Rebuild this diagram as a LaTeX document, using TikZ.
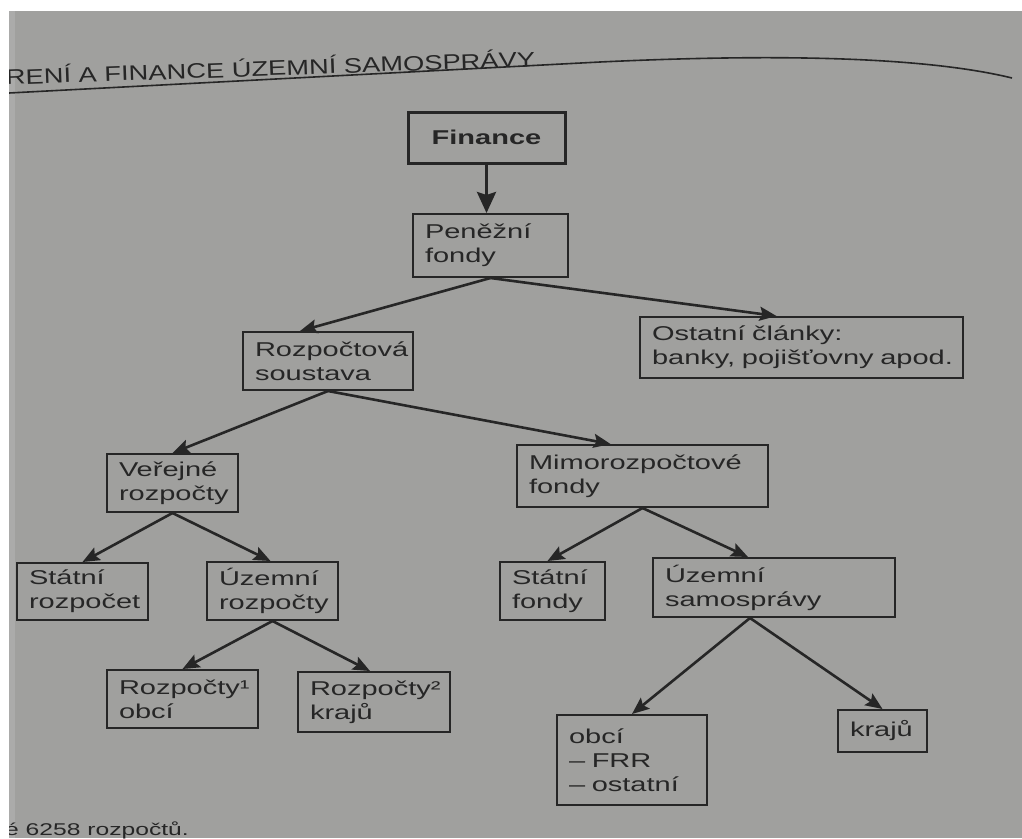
\documentclass[tikz,border=0pt]{standalone}
\usepackage{fontspec}
\setmainfont{Liberation Sans}[FakeStretch=1.45]
\newfontfamily\hdrfont{Liberation Sans}[FakeStretch=1.3]
\usetikzlibrary{arrows.meta}
\definecolor{paper}{RGB}{160,160,158}
\definecolor{ink}{RGB}{38,38,38}
\begin{document}
\begin{tikzpicture}[x=1pt,y=-1pt,
  bx/.style={draw=ink, line width=2pt, text=ink, inner xsep=12pt, inner ysep=0pt,
    align=left, font=\fontsize{20}{24}\selectfont},
  arr/.style={draw=ink, line width=2.6pt, -{Stealth[length=17pt,width=14pt,inset=3pt]}},
  bigarr/.style={draw=ink, line width=3pt, -{Stealth[length=21pt,width=19pt,inset=3pt]}}]
\useasboundingbox (0,0) rectangle (1022,838);
\fill[white] (0,0) rectangle (1022,838);
\fill[paper] (9,11) rectangle (1022,838);
\fill[paper!88!white] (9,11) rectangle (15,838);
\begin{scope}
\clip (9,11) rectangle (1022,838);
\node[anchor=base west, inner sep=0pt, rotate=2, text=ink,
  font=\hdrfont\fontsize{21}{21}\selectfont] (hdr) at (6,85) {RENÍ A FINANCE ÚZEMNÍ SAMOSPRÁVY};
\draw[ink, line width=1.6pt] (9,93) -- (600,62) .. controls (790,53) and (930,58) .. (1012,78);
\node[anchor=base west, inner sep=0pt, text=ink, font=\fontsize{17}{17}\selectfont] (ftr) at (5,835) {é 6258 rozpočtů.};
\end{scope}
% boxes
\node[bx, line width=3pt, align=center, minimum width=157pt, minimum height=51pt, font=\bfseries\fontsize{20}{24}\selectfont] (fin) at (486.5,137.5) {Finance};
\node[bx, text width=131pt, minimum height=63pt] (pen) at (490.5,245.5) {Peněžní\\fondy};
\node[bx, text width=146pt, minimum height=58pt] (roz) at (328,361) {Rozpočtová\\soustava};
\node[bx, text width=299pt, minimum height=61pt] (ost) at (801.5,347.5) {\mbox{Ostatní články:}\\\mbox{banky, pojišťovny apod.}};
\node[bx, text width=107pt, minimum height=58pt] (ver) at (172.5,483) {Veřejné\\rozpočty};
\node[bx, text width=227pt, minimum height=62pt] (mim) at (642.5,476) {Mimorozpočtové\\fondy};
\node[bx, text width=107pt, minimum height=57pt] (str) at (82.5,591.5) {Státní\\rozpočet};
\node[bx, text width=107pt, minimum height=58pt] (uzr) at (272.5,591) {Územní\\rozpočty};
\node[bx, text width=81pt, minimum height=58pt] (sf) at (552.5,591) {Státní\\fondy};
\node[bx, text width=218pt, minimum height=59pt] (us) at (774,587.5) {Územní\\samosprávy};
\node[bx, text width=127pt, minimum height=58pt] (ro) at (182.5,699) {Rozpočty¹\\obcí};
\node[bx, text width=128pt, minimum height=60pt] (rk) at (374,702) {Rozpočty²\\krajů};
\node[bx, text width=126pt, minimum height=90pt] (ob) at (632,760) {obcí\\\mbox{– FRR}\\\mbox{– ostatní}};
\node[bx, text width=65pt, minimum height=42pt] (kr) at (882.5,731) {krajů};
% connectors
\draw[bigarr] (fin.south) -- (fin.south |- pen.north);
\draw[arr] (pen.south) -- ([xshift=-28pt]roz.north);
\draw[arr] (pen.south) -- ([xshift=-25pt]ost.north);
\draw[arr] (roz.south) -- (ver.north);
\draw[arr] (roz.south) -- ([xshift=-32pt]mim.north);
\draw[arr] (ver.south) -- (str.north);
\draw[arr] (ver.south) -- ([xshift=-2pt]uzr.north);
\draw[arr] (uzr.south) -- (ro.north);
\draw[arr] (uzr.south) -- ([xshift=-4pt]rk.north);
\draw[arr] (mim.south) -- ([xshift=-5pt]sf.north);
\draw[arr] (mim.south) -- ([xshift=-26pt]us.north);
\draw[arr] ([xshift=-24pt]us.south) -- (ob.north);
\draw[arr] ([xshift=-24pt]us.south) -- (kr.north);
\end{tikzpicture}
\end{document}
